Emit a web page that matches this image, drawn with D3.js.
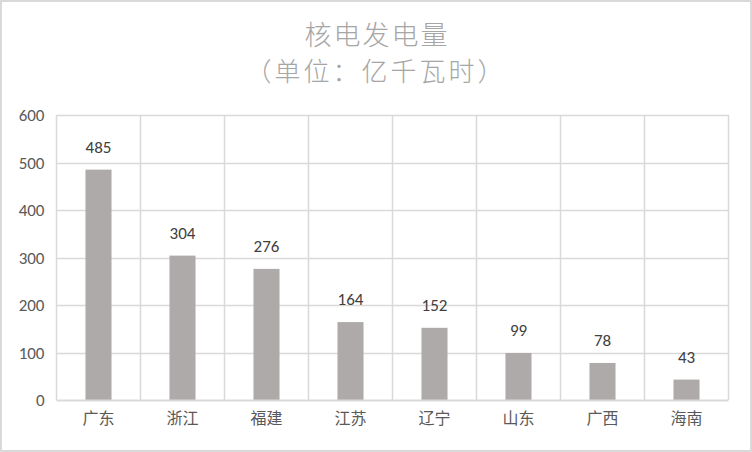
<!DOCTYPE html>
<html><head><meta charset="utf-8">
<script src="https://cdn.jsdelivr.net/npm/d3@7/dist/d3.min.js"></script>
<style>body{margin:0;background:#fff}svg{display:block}</style>
</head><body>
<svg id="c" width="752" height="452"></svg>
<script>
const categories = ["广东","浙江","福建","江苏","辽宁","山东","广西","海南"];
const values = [485,304,276,164,152,99,78,43];
const yTicks = [0,100,200,300,400,500,600];
const title = "核电发电量";
const subtitle = "（单位：亿千瓦时）";

const svg = d3.select("#c");
const W = 752, H = 452;
const m = {left:56.5, right:728.5, top:115, bottom:400};
const cjk = "'Noto Sans CJK SC','Noto Sans',sans-serif";
const lat = "Calibri,Carlito,'Open Sans','Liberation Sans',sans-serif";

svg.append("rect").attr("x",1).attr("y",1).attr("width",W-2).attr("height",H-2)
  .attr("fill","#fff").attr("stroke","#d9d9d9").attr("stroke-width",2);

const x = d3.scaleBand().domain(categories).range([m.left,m.right]).paddingInner(0.69).paddingOuter(0.345);
const y = d3.scaleLinear().domain([0,600]).range([m.bottom,m.top]);

// horizontal grid
svg.append("g").selectAll("line").data(yTicks.slice(1)).join("line")
  .attr("x1",m.left).attr("x2",m.right)
  .attr("y1",d=>Math.round(y(d))+0.5).attr("y2",d=>Math.round(y(d))+0.5)
  .attr("stroke","#d9d9d9").attr("stroke-width",1.5);
// vertical grid at category boundaries
const bounds = d3.range(categories.length+1).map(i=>m.left + i*(m.right-m.left)/categories.length);
svg.append("g").selectAll("line").data(bounds).join("line")
  .attr("x1",d=>d).attr("x2",d=>d).attr("y1",y(600)).attr("y2",y(0))
  .attr("stroke","#d9d9d9").attr("stroke-width",1.5);

// bars
svg.append("g").selectAll("rect").data(values).join("rect")
  .attr("x",(d,i)=>x(categories[i])).attr("width",x.bandwidth())
  .attr("y",d=>y(d)).attr("height",d=>y(0)-y(d)).attr("fill","#aeaaa9");

// axis line
svg.append("line").attr("x1",m.left).attr("x2",m.right).attr("y1",y(0)+0.5).attr("y2",y(0)+0.5)
  .attr("stroke","#d9d9d9").attr("stroke-width",2);

// y axis labels
const ya = svg.append("g").attr("transform",`translate(${m.left-12},0)`)
  .call(d3.axisLeft(y).tickValues(yTicks).tickSize(0).tickPadding(0));
ya.select(".domain").remove();
ya.selectAll("text").attr("font-family",lat).attr("font-size",17).attr("fill","#595959").attr("dy","0.35em");

// x axis labels
const xa = svg.append("g").attr("transform",`translate(0,${y(0)})`)
  .call(d3.axisBottom(x).tickSize(0).tickPadding(14));
xa.select(".domain").remove();
xa.selectAll("text").attr("font-family",cjk).attr("font-size",16).attr("fill","#595959").attr("dy","0.6em");

// data labels
svg.append("g").selectAll("text").data(values).join("text")
  .attr("x",(d,i)=>x(categories[i])+x.bandwidth()/2).attr("y",d=>y(d)-17)
  .attr("text-anchor","middle").attr("font-family",lat).attr("font-size",17).attr("fill","#404040")
  .text(d=>d);

// titles
svg.append("text").attr("x",377).attr("y",45).attr("text-anchor","middle")
  .attr("font-family",cjk).attr("font-weight",300).attr("font-size",27).attr("letter-spacing",2)
  .attr("fill","#a6a6a6").text(title);
svg.append("text").attr("x",376).attr("y",81).attr("text-anchor","middle")
  .attr("font-family",cjk).attr("font-weight",300).attr("font-size",26).attr("letter-spacing",3)
  .attr("fill","#a6a6a6").text(subtitle);
</script>
</body></html>
